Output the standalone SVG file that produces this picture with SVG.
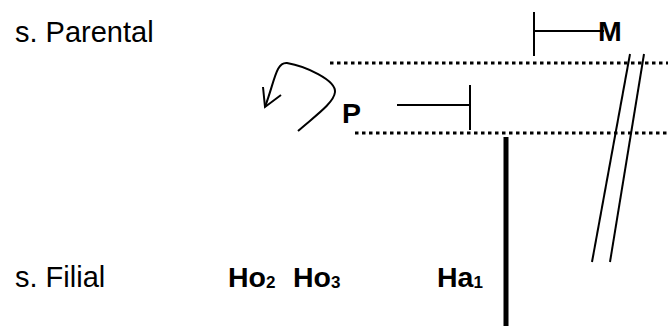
<svg xmlns="http://www.w3.org/2000/svg" width="668" height="327" viewBox="0 0 668 327">
<style>
.lbl{font-family:"Liberation Sans",Arial,sans-serif;font-size:29px;fill:#000}
.b{font-family:"Liberation Sans",Arial,sans-serif;font-size:28.5px;font-weight:bold;fill:#000}
.sub{font-size:17px}
.ln{stroke:#000;stroke-width:2;fill:none}
.dot{stroke:#000;stroke-width:3;stroke-dasharray:3.5 3.5;fill:none}
</style>
<rect width="668" height="327" fill="#fff"/>
<g id="label-parental"><text class="lbl" x="15" y="42">s. Parental</text></g>
<g id="label-filial"><text class="lbl" x="15" y="287">s. Filial</text></g>
<g id="node-M"><text class="b" x="598" y="41">M</text></g>
<g id="node-P"><text class="b" x="342" y="123">P</text></g>
<g id="node-Ho2"><text class="b" x="228" y="287">Ho<tspan class="sub" dy="1">2</tspan></text></g>
<g id="node-Ho3"><text class="b" x="293" y="287">Ho<tspan class="sub" dy="1">3</tspan></text></g>
<g id="node-Ha1"><text class="b" x="437" y="287">Ha<tspan class="sub" dy="1">1</tspan></text></g>
<g id="connectors">
<line class="dot" x1="330" y1="63" x2="668" y2="63"/>
<line class="dot" x1="355" y1="133" x2="668" y2="133"/>
<line class="ln" x1="534" y1="12" x2="534" y2="56"/>
<line class="ln" x1="534" y1="31" x2="604" y2="31"/>
<line class="ln" x1="397" y1="105" x2="470" y2="105"/>
<line class="ln" x1="470" y1="85" x2="470" y2="130"/>
<line x1="506" y1="137" x2="506" y2="326" stroke="#000" stroke-width="5"/>
<line class="ln" x1="630" y1="54" x2="592" y2="262"/>
<line class="ln" x1="644" y1="54" x2="610" y2="262"/>
<path class="ln" d="M298,131 C315,116 334,103 335,92 C336,80 305,66 287,63 C276,62 275,80 265,107"/>
<path class="ln" d="M263,87 L265,107 L281,95"/>
</g>
</svg>
